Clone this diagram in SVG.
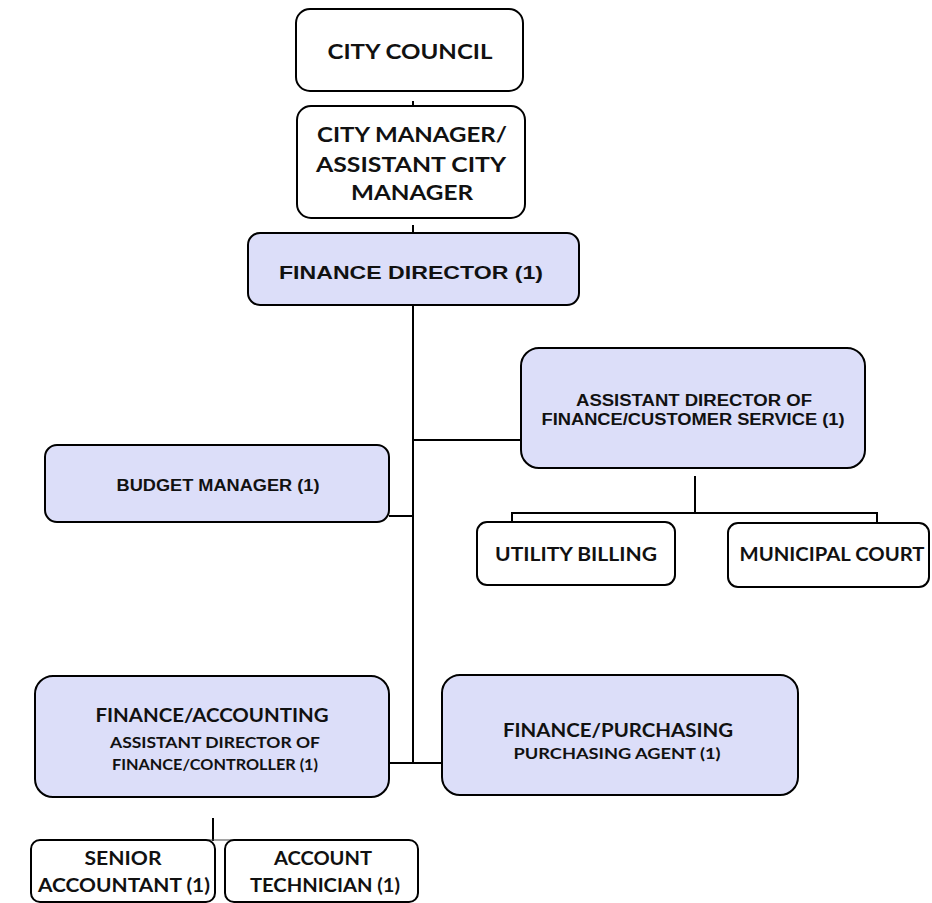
<svg xmlns="http://www.w3.org/2000/svg" width="932" height="903" viewBox="0 0 932 903">
<style>
.b{fill:#ffffff;stroke:#000;stroke-width:2}
.p{fill:#dcdef9;stroke:#000;stroke-width:2}
.c{fill:none;stroke:#000;stroke-width:2}
.h{font-family:Lato,"Open Sans","Liberation Sans",sans-serif;font-weight:bold;fill:#111;text-anchor:middle}
.a{font-family:"Liberation Sans",Arial,sans-serif;font-weight:bold;fill:#111;text-anchor:middle}
</style>
<rect width="932" height="903" fill="#fff"/>
<g id="connectors">
<line class="c" x1="413" y1="101" x2="413" y2="107"/>
<line class="c" x1="413" y1="225" x2="413" y2="233"/>
<line class="c" x1="413" y1="305" x2="413" y2="764"/>
<line class="c" x1="413" y1="440" x2="521" y2="440"/>
<line class="c" x1="389" y1="516" x2="413" y2="516"/>
<line class="c" x1="389" y1="763" x2="442" y2="763"/>
<line class="c" x1="695" y1="476" x2="695" y2="513"/>
<polyline class="c" points="512,523 512,513 877,513 877,523"/>
<line class="c" x1="213" y1="818" x2="213" y2="841"/>
<line x1="113" y1="840" x2="332" y2="840" stroke="#444" stroke-width="1"/>
</g>
<g id="city-council">
<rect class="b" x="296" y="9" width="227" height="82" rx="14"/>
<text class="h" x="410" y="59" font-size="21" textLength="165" lengthAdjust="spacingAndGlyphs">CITY COUNCIL</text>
</g>
<g id="city-manager">
<rect class="b" x="297" y="106" width="228" height="112" rx="14"/>
<text class="h" x="412" y="142" font-size="20" textLength="190" lengthAdjust="spacingAndGlyphs">CITY MANAGER/</text>
<text class="h" x="411" y="172" font-size="20" textLength="190" lengthAdjust="spacingAndGlyphs">ASSISTANT CITY</text>
<text class="h" x="412" y="200" font-size="20" textLength="122" lengthAdjust="spacingAndGlyphs">MANAGER</text>
</g>
<g id="finance-director">
<rect class="p" x="248" y="233" width="331" height="72" rx="12"/>
<text class="a" x="411" y="279" font-size="19" textLength="264" lengthAdjust="spacingAndGlyphs">FINANCE DIRECTOR  (1)</text>
</g>
<g id="asst-director-cs">
<rect class="p" x="521" y="348" width="344" height="120" rx="18"/>
<text class="a" x="694" y="406" font-size="16" textLength="236" lengthAdjust="spacingAndGlyphs">ASSISTANT DIRECTOR  OF</text>
<text class="a" x="693" y="425" font-size="16" textLength="303" lengthAdjust="spacingAndGlyphs">FINANCE/CUSTOMER  SERVICE (1)</text>
</g>
<g id="budget-manager">
<rect class="p" x="45" y="445" width="344" height="77" rx="12"/>
<text class="a" x="218" y="491" font-size="16" textLength="203" lengthAdjust="spacingAndGlyphs">BUDGET  MANAGER  (1)</text>
</g>
<g id="utility-billing">
<rect class="b" x="477" y="522" width="198" height="63" rx="10"/>
<text class="h" x="576" y="561" font-size="19" textLength="162" lengthAdjust="spacingAndGlyphs">UTILITY BILLING</text>
</g>
<g id="municipal-court">
<rect class="b" x="728" y="523" width="201" height="64" rx="10"/>
<text class="h" x="832" y="561" font-size="19" textLength="185" lengthAdjust="spacingAndGlyphs">MUNICIPAL COURT</text>
</g>
<g id="finance-accounting">
<rect class="p" x="35" y="676" width="354" height="121" rx="18"/>
<text class="h" x="212" y="722" font-size="19" textLength="233" lengthAdjust="spacingAndGlyphs">FINANCE/ACCOUNTING</text>
<text class="h" x="215" y="748" font-size="16" textLength="210" lengthAdjust="spacingAndGlyphs">ASSISTANT DIRECTOR OF</text>
<text class="h" x="215" y="770" font-size="16" textLength="206" lengthAdjust="spacingAndGlyphs">FINANCE/CONTROLLER  (1)</text>
</g>
<g id="finance-purchasing">
<rect class="p" x="442" y="675" width="356" height="120" rx="18"/>
<text class="h" x="618" y="737" font-size="19" textLength="230" lengthAdjust="spacingAndGlyphs">FINANCE/PURCHASING</text>
<text class="h" x="617" y="759" font-size="15" textLength="207" lengthAdjust="spacingAndGlyphs">PURCHASING  AGENT (1)</text>
</g>
<g id="senior-accountant">
<rect class="b" x="31" y="840" width="184" height="62" rx="9"/>
<text class="h" x="123" y="865" font-size="19" textLength="77" lengthAdjust="spacingAndGlyphs">SENIOR</text>
<text class="h" x="124" y="892" font-size="19" textLength="172" lengthAdjust="spacingAndGlyphs">ACCOUNTANT (1)</text>
</g>
<g id="account-technician">
<rect class="b" x="225" y="840" width="193" height="62" rx="9"/>
<text class="h" x="323" y="865" font-size="19" textLength="98" lengthAdjust="spacingAndGlyphs">ACCOUNT</text>
<text class="h" x="325" y="892" font-size="19" textLength="150" lengthAdjust="spacingAndGlyphs">TECHNICIAN (1)</text>
</g>
</svg>
